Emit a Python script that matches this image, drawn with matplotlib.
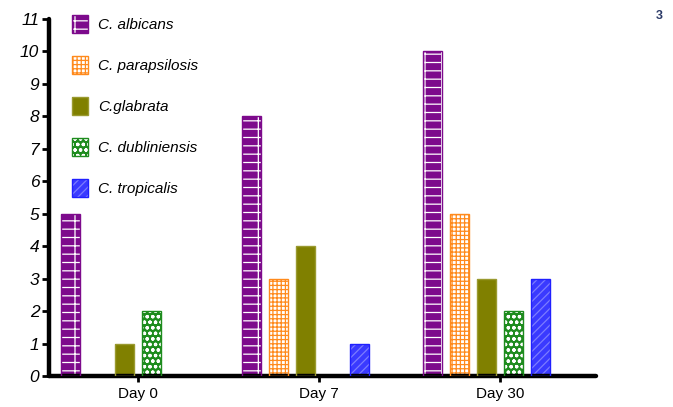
import matplotlib.pyplot as plt
from matplotlib.patches import Patch
from matplotlib.legend_handler import HandlerTuple
import numpy as np

plt.rcParams['font.family'] = ['Liberation Sans', 'DejaVu Sans']
plt.rcParams['hatch.linewidth'] = 0.9

days = ['Day 0', 'Day 7', 'Day 30']
species = ['C. albicans', 'C. parapsilosis', 'C.glabrata', 'C. dubliniensis', 'C. tropicalis']
albicans = [5, 8, 10]
parapsilosis = [0, 3, 5]
glabrata = [1, 4, 3]
dubliniensis = [2, 0, 2]
tropicalis = [0, 1, 3]
values = [albicans, parapsilosis, glabrata, dubliniensis, tropicalis]

# (face, hatch colour, hatch, outline)
styles = [
    ('#7d0a8c', 'white', '+-', '#7d0a8c'),
    ('white', '#ff8a1c', '++++', '#ff8a1c'),
    ('#808000', '#808000', '', '#9a9a30'),
    ('#1e8c1e', 'white', 'ooo', '#1e8c1e'),
    ('#3a3aff', '#7c7cff', '////', '#2020ff'),
]

fig = plt.figure(figsize=(6.73, 4.07), dpi=100)
ax = fig.add_axes([0.0728, 0.0762, 0.8128, 0.8771])

x = np.arange(len(days))
step = 0.149
width = 0.105
handles = []
for i, (vals, (fc, hc, hatch, ec)) in enumerate(zip(values, styles)):
    pos = x + (i - 2.5) * step
    v = np.array(vals, dtype=float)
    mask = v > 0
    ax.bar(pos[mask], v[mask], width, color=fc, edgecolor=hc, hatch=hatch,
           linewidth=0, zorder=2)
    ax.bar(pos[mask], v[mask], width, facecolor='none', edgecolor=ec,
           linewidth=1.0, zorder=3)
    h1 = Patch(facecolor=fc, edgecolor=hc, hatch=hatch, linewidth=0)
    h2 = Patch(facecolor='none', edgecolor=ec, linewidth=1.0)
    handles.append((h1, h2))

ax.set_xlim(-0.492, 2.53)
ax.set_ylim(0, 11)
ax.set_yticks(range(0, 12))
ax.set_xticks(x)
ax.set_xticklabels(days, fontsize=11)
for lbl in ax.get_yticklabels():
    lbl.set_fontstyle('italic')
    lbl.set_fontsize(12.5)

for s in ['top', 'right']:
    ax.spines[s].set_visible(False)
for s in ['left', 'bottom']:
    ax.spines[s].set_linewidth(3.2)
    ax.spines[s].set_capstyle('round')
ax.tick_params(axis='y', length=5, width=2, pad=2)
ax.tick_params(axis='x', length=4, width=2, pad=4)

leg = ax.legend(handles, species, handler_map={tuple: HandlerTuple(ndivide=1, pad=0)},
                loc='upper left', bbox_to_anchor=(0.04, 1.015), frameon=False,
                borderaxespad=0, borderpad=0.1, handlelength=1.05, handleheight=1.45,
                handletextpad=0.65, labelspacing=1.49, prop={'style': 'italic', 'size': 11})

fig.text(0.985, 0.975, '3', fontsize=9, color='#2b3a67', ha='right', va='top',
         fontweight='bold')

fig.savefig('out.png', dpi=100)
